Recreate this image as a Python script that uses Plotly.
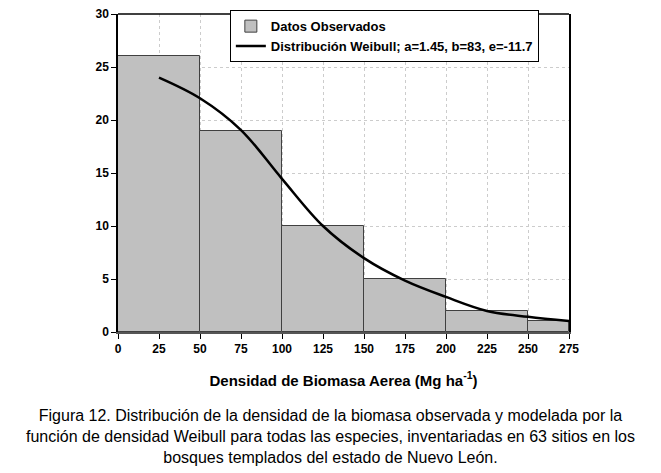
import plotly.graph_objects as go

# observed histogram (bin edges and counts)
bin_left = [0, 50, 100, 150, 200, 250]
bin_right = [50, 100, 150, 200, 250, 275]
counts = [26, 19, 10, 5, 2, 1]

# fitted Weibull curve
curve_x = [25, 50, 75, 100, 125, 150, 175, 200, 225, 250, 275]
curve_y = [24.0, 22.05, 19.05, 14.45, 10.0, 6.97, 4.85, 3.31, 1.99, 1.43, 1.03]

x_ticks = [0, 25, 50, 75, 100, 125, 150, 175, 200, 225, 250, 275]
y_ticks = [0, 5, 10, 15, 20, 25, 30]

centers = [(a + b) / 2 for a, b in zip(bin_left, bin_right)]
widths = [b - a for a, b in zip(bin_left, bin_right)]

font_family = "Liberation Sans, Arial, sans-serif"
ml, mr, mt, mb = 118, 92, 7, 141
plot_w = 661 - ml - mr

fig = go.Figure()

fig.add_trace(go.Bar(
    x=centers, y=counts, width=widths,
    name="Datos Observados",
    marker=dict(color="#c0c0c0", line=dict(color="#404040", width=1)),
))

fig.add_trace(go.Scatter(
    x=curve_x, y=curve_y,
    mode="lines", line=dict(color="black", width=2.5, shape="spline"),
    name="Distribución Weibull; a=1.45, b=83, e=-11.7",
))

fig.update_layout(
    width=661, height=473,
    margin=dict(l=ml, r=mr, t=mt, b=mb),
    paper_bgcolor="white", plot_bgcolor="white",
    font=dict(family=font_family, color="black"),
    bargap=0,
    legend=dict(
        x=0.248, y=1.012, xanchor="left", yanchor="top",
        bordercolor="black", borderwidth=1, bgcolor="white",
        font=dict(size=13, family=font_family, weight="bold"),
        itemwidth=30, tracegroupgap=0,
    ),
    xaxis=dict(
        range=[0, 275], tickvals=x_ticks,
        showline=True, linecolor="#555555", linewidth=1.5,
        ticks="outside", ticklen=5, tickcolor="black",
        tickfont=dict(size=12, family=font_family, weight="bold"),
        showgrid=True, gridcolor="#cccccc", griddash="dot", gridwidth=1,
        zeroline=False,
        title=dict(text="Densidad de Biomasa Aerea (Mg ha<sup>-1</sup>)",
                   font=dict(size=15, weight="bold"), standoff=20),
    ),
    yaxis=dict(
        range=[0, 30], tickvals=y_ticks,
        showline=True, linecolor="black", linewidth=1.5, mirror=True,
        ticks="outside", ticklen=5, tickcolor="black",
        tickfont=dict(size=12, family=font_family, weight="bold"),
        showgrid=True, gridcolor="#cccccc", griddash="dot", gridwidth=1,
        zeroline=False,
    ),
    shapes=[dict(type="line", xref="paper", yref="paper", x0=0, x1=1, y0=1, y1=1,
                 line=dict(color="black", width=1.5))],
    annotations=[dict(
        text=("Figura 12. Distribución de la densidad de la biomasa observada y modelada por la<br>"
              "función de densidad Weibull para todas las especies, inventariadas en 63 sitios en los<br>"
              "bosques templados del estado de Nuevo León."),
        xref="paper", yref="paper", x=(330.5 - ml) / plot_w,
        y=-0.228, xanchor="center", yanchor="top", showarrow=False,
        font=dict(size=16, family=font_family), align="center",
    )],
)

fig.write_html("out.html", config={"displayModeBar": False},
               post_script="document.body.style.margin='0';")
